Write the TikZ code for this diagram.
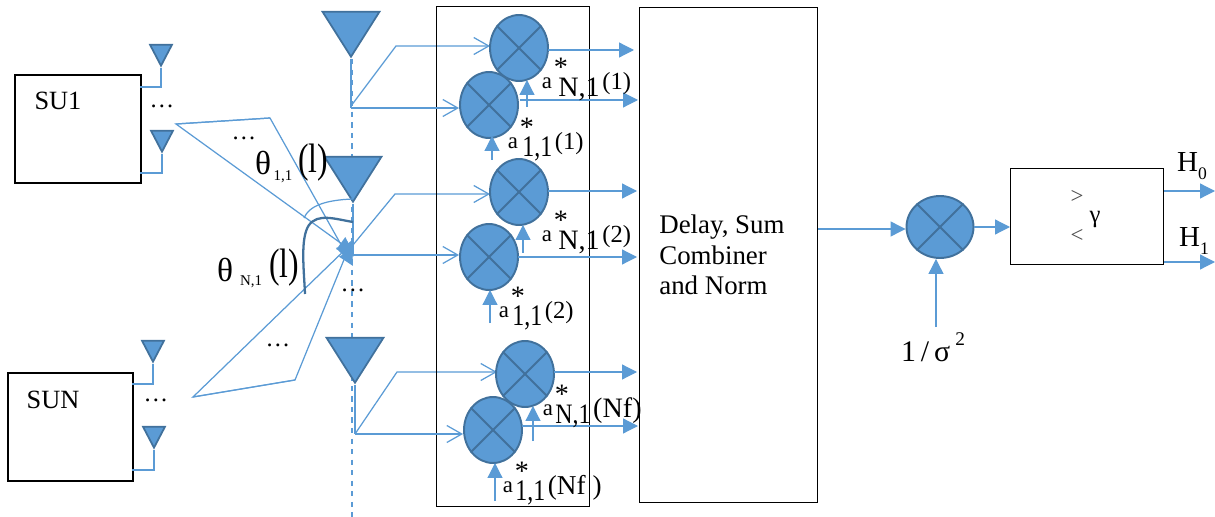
\documentclass[tikz,border=0pt]{standalone}
\usepackage{fontspec}
\setmainfont{Liberation Serif}
\usepackage{xcolor}
\usetikzlibrary{arrows.meta,shapes,positioning,calc}
\definecolor{lineblue}{HTML}{5B9BD5}
\definecolor{edgeblue}{HTML}{41719C}
\tikzset{
    block/.style={draw=black, line width=0.8pt, anchor=north west, inner sep=0pt},
    userbox/.style={block, line width=1.1pt},
    mult/.style={draw=edgeblue, line width=1.1pt, fill=lineblue, ellipse, inner sep=0pt, minimum width=1.16cm, minimum height=1.32cm},
    ant/.style={draw=edgeblue, line width=1pt, fill=lineblue, isosceles triangle, isosceles triangle stretches, shape border rotate=-90, inner sep=0pt, anchor=apex},
    bigant/.style={ant, minimum width=1.14cm, minimum height=0.9cm},
    smallant/.style={ant, minimum width=0.44cm, minimum height=0.42cm},
    wire/.style={draw=lineblue, line width=0.7pt},
    sig/.style={wire, -{Triangle[length=3mm,width=3mm]}},
    inarrow/.style={wire, -{Straight Barb[length=3mm,width=3.4mm]}},
    txt/.style={inner sep=0pt, font=\fontsize{15}{17}\selectfont},
}
\begin{document}
\begin{tikzpicture}[x=0.02cm,y=-0.02cm]
    \useasboundingbox (0,0) rectangle (1215,517);
    % users
    \node[userbox, minimum width=2.52cm, minimum height=2.16cm] (su1) at (14,74) {};
    \node[userbox, minimum width=2.5cm, minimum height=2.16cm] (sun) at (7,372) {};
    \node[txt] (su1txt) at (58,101) {SU1};
    \node[txt] (suntxt) at (53,400) {SUN};
    % small antennas
    \foreach \name/\x/\y/\yb/\xb in {sa1/161/68/87/140, sa2/162/154/173/140, sa3/153/364/384/132, sa4/154/450/470/132}{
        \node[smallant] (\name) at (\x,\y) {};
        \coordinate (\name c) at (\x,\yb);
        \coordinate (\name d) at (\xb,\yb);
        \draw[wire] (\name.apex) -- (\name c) -- (\name d);
    }
    \node[txt, font=\fontsize{14}{16}\selectfont] (dots1) at (162,106) {\dots};
    \node[txt, font=\fontsize{14}{16}\selectfont] (dots2) at (156,400) {\dots};
    \node[txt, font=\fontsize{14}{16}\selectfont] (dots3) at (244,138) {\dots};
    \node[txt, font=\fontsize{14}{16}\selectfont] (dots4) at (278,345) {\dots};
    \node[txt, font=\fontsize{14}{16}\selectfont] (dots5) at (353,290) {\dots};
    % receive array
    \coordinate (top) at (352,59);
    \coordinate (bot) at (352,517);
    \draw[wire, dashed] (top) -- (bot);
    \foreach \name/\x/\y/\yb/\yc/\xu/\yu/\xr in {ra1/351/59/106/108/396/46/490, ra2/353/204/245/255/395/194/490, ra3/355/385/434/434/397/372/497}{
        \node[bigant] (\name) at (\x,\y) {};
        \coordinate (\name j) at (\x,\yb);
        \coordinate (\name k) at (\x,\yc);
        \coordinate (\name u) at (\xu,\yu);
        \coordinate (\name r) at (\xr,\yu);
        \draw[wire] (\name.apex) -- (\name k);
        \draw[inarrow] (\name j) -- (\name u) -- (\name r);
    }
    % beams
    \coordinate (b1) at (176,124);
    \coordinate (b2) at (270,118);
    \coordinate (b3) at (193,397);
    \coordinate (b4) at (295,380);
    \coordinate (hit1) at (353,252);
    \coordinate (hit2) at (353,266);
    \coordinate (hit3) at (352,243);
    \coordinate (hit4) at (352,240);
    \draw[sig] (b2) -- (b1) -- (hit1);
    \draw[sig] (b1) -- (b2) -- (hit2);
    \draw[sig] (b4) -- (b3) -- (hit3);
    \draw[sig] (b3) -- (b4) -- (hit4);
    % angles
    \coordinate (t1) at (353,199);
    \coordinate (t2) at (304,218);
    \coordinate (t3) at (353,222);
    \coordinate (t4) at (305,294);
    \draw[wire] (t1) .. controls (325,200) and (309,206) .. (t2);
    \draw[draw=edgeblue, line width=1.3pt] (t3) .. controls (335,219) and (318,213) .. (309,225) .. controls (300,238) and (304,270) .. (t4);
    \node[inner sep=0pt, font=\fontsize{19}{20}\selectfont] (th1) at (263,163) {θ};
    \node[inner sep=0pt, font=\fontsize{8.5}{9}\selectfont] (th1s) at (283,177) {1,1};
    \node[inner sep=0pt, font=\fontsize{18}{20}\selectfont] (th1l) at (313,163) {\scalebox{1}[1.3]{(l)}};
    \node[inner sep=0pt, font=\fontsize{19}{20}\selectfont] (thn) at (225,270) {θ};
    \node[inner sep=0pt, font=\fontsize{8.5}{9}\selectfont] (thns) at (251,282) {N,1};
    \node[inner sep=0pt, font=\fontsize{18}{20}\selectfont] (thnl) at (284,268) {\scalebox{1}[1.3]{(l)}};
    % combiner boxes
    \node[block, minimum width=3.06cm, minimum height=10cm] (bank) at (436,6) {};
    \node[block, minimum width=3.56cm, minimum height=9.9cm] (comb) at (639,7) {};
    \node[txt, align=left, anchor=west, font=\fontsize{15.3}{17.5}\selectfont] (combtxt) at (659,255) {Delay, Sum\\Combiner\\and Norm};
    % multipliers
    \foreach \name/\x/\y/\xo/\yo/\xe/\xv/\yv/\yw in {m1/519/48/548/50/634/527/107/80, m2/489/105/520/100/638/492/160/136, m3/519/192/548/191/637/523/253/225, m4/489/257/518/257/637/490/323/290, m5/525/374/554/372/637/533/441/406, m6/493/430/522/426/638/495/501/463}{
        \node[mult] (\name) at (\x,\y) {};
        \draw[draw=edgeblue, line width=1.1pt] (\name.45) -- (\name.225);
        \draw[draw=edgeblue, line width=1.1pt] (\name.135) -- (\name.315);
        \coordinate (\name o) at (\xo,\yo);
        \coordinate (\name e) at (\xe,\yo);
        \coordinate (\name v) at (\xv,\yv);
        \coordinate (\name w) at (\xv,\yw);
        \draw[sig] (\name o) -- (\name e);
        \draw[sig] (\name v) -- (\name w);
    }
    \draw[inarrow] (ra1k) -- (m2.west |- ra1k);
    \draw[inarrow] (ra2k) -- (m4.west |- ra2k);
    \draw[inarrow] (ra3k) -- (m6.west |- ra3k);
    % weights
    \foreach \name/\x/\y/\xs/\sub/\wt/\ss/\sx/\fs in {w1/547/83/558/{N,1}/{(1)}/16/1/14, w2/513/143/522/{1,1}/{(1)}/17/.8/14, w3/547/236/558/{N,1}/{(2)}/16/1/14, w4/504/312/512/{1,1}/{(2)}/17/.8/14, w5/548/410/555/{N,1}/{(Nf)}/16/.85/16, w6/508/487/515/{1,1}/{(Nf )}/17/.8/15.5}{
        \node[inner sep=0pt, font=\fontsize{13}{14}\selectfont] (\name a) at (\x,\y) {a};
        \node[inner sep=0pt, font=\fontsize{16}{17}\selectfont] (\name s) at ($(\x,\y)+(14,-16)$) {*};
        \node[inner sep=0pt, anchor=west, font=\fontsize{\ss}{18}\selectfont] (\name n) at ($(\xs,\y)+(0,6)$) {\scalebox{\sx}[1]{\sub}};
        \node[inner sep=0pt, anchor=west, font=\fontsize{\fs}{17}\selectfont] (\name w) at ($(\name n.east)+(2,-5)$) {\wt};
    }
    % decision
    \node[mult, minimum width=1.34cm, minimum height=1.24cm] (m0) at (940,227) {};
    \draw[draw=edgeblue, line width=1.1pt] (m0.45) -- (m0.225);
    \draw[draw=edgeblue, line width=1.1pt] (m0.135) -- (m0.315);
    \node[block, minimum width=3.06cm, minimum height=1.92cm] (test) at (1010,168) {};
    \draw[sig] (comb.east |- 0,229) -- (m0.west |- 0,229);
    \draw[sig] (m0.east) -- (test.west |- m0.east);
    \node[inner sep=0pt, font=\fontsize{17}{18}\selectfont] (noise) at (933,347) {1\,/\,σ\,\raisebox{.55em}{\fontsize{11}{12}\selectfont 2}};
    \coordinate (noisev) at (936,327);
    \draw[sig] (noisev) -- (noisev |- m0.south);
    \node[inner sep=0pt, font=\fontsize{13}{14}\selectfont, text=black!70] (gt) at (1077,197) {>};
    \node[inner sep=0pt, font=\fontsize{13}{14}\selectfont, text=black!70] (lt) at (1077,236) {<};
    \node[inner sep=0pt, font=\fontsize{14}{15}\selectfont] (gam) at (1095,219) {γ};
    \node[inner sep=0pt, font=\fontsize{16.5}{18}\selectfont] (h0) at (1192,166) {H\raisebox{-.3em}{\fontsize{10}{11}\selectfont 0}};
    \node[inner sep=0pt, font=\fontsize{16.5}{18}\selectfont] (h1) at (1194,241) {H\raisebox{-.3em}{\fontsize{10}{11}\selectfont 1}};
    \coordinate (h0end) at (1215,191);
    \coordinate (h1end) at (1215,262);
    \draw[sig] (test.east |- h0end) -- (h0end);
    \draw[sig] (test.east |- h1end) -- (h1end);
\end{tikzpicture}
\end{document}
